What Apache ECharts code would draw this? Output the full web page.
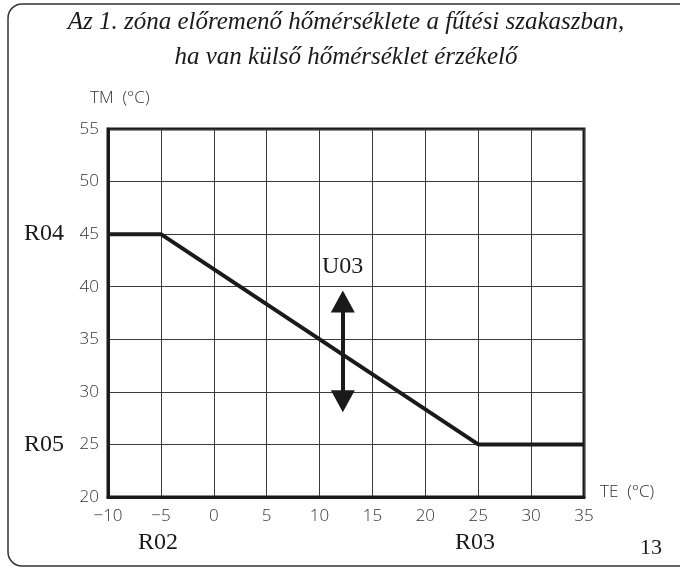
<!DOCTYPE html>
<html>
<head>
<meta charset="utf-8">
<script src="https://cdn.jsdelivr.net/npm/echarts@6/dist/echarts.min.js"></script>
<style>
  html, body { margin: 0; padding: 0; background: #fff; }
  #chart { width: 680px; height: 569px; }
</style>
</head>
<body>
<div id="chart"></div>
<script>
// görbe töréspontjai (TE, TM)
const curveTE = [-10, -5, 25, 35];
const curveTM = [45, 45, 25, 25];
// U03 nyíl
const arrowTE = 12.2;
const arrowTM = [39.6, 28.1];
const xTicks = [-10, 35, 5];
const yTicks = [20, 55, 5];
const titleLines = ['Az 1. zóna előremenő hőmérséklete a fűtési szakaszban,', 'ha van külső hőmérséklet érzékelő'];

const labelFont = '"Open Sans", sans-serif';
const serif = '"Liberation Serif", serif';

const chart = echarts.init(document.getElementById('chart'));
const option = {
  animation: false,
  grid: { left: 108, right: 96, top: 129, bottom: 72, show: true, borderColor: '#1a1a1a', borderWidth: 3, backgroundColor: 'transparent' },
  xAxis: {
    type: 'value', min: xTicks[0], max: xTicks[1], interval: xTicks[2],
    axisLine: { show: true, onZero: false, lineStyle: { color: '#1a1a1a', width: 3 } },
    axisTick: { show: false },
    splitLine: { show: true, lineStyle: { color: '#3a3a3a', width: 1 } },
    axisLabel: { color: '#333', fontFamily: labelFont, fontSize: 17, fontWeight: 300, margin: 11,
      formatter: v => String(v).replace('-', '\u2212') }
  },
  yAxis: {
    type: 'value', min: yTicks[0], max: yTicks[1], interval: yTicks[2],
    axisLine: { show: true, onZero: false, lineStyle: { color: '#1a1a1a', width: 3 } },
    axisTick: { show: false },
    splitLine: { show: true, lineStyle: { color: '#3a3a3a', width: 1 } },
    axisLabel: { color: '#333', fontFamily: labelFont, fontSize: 17, fontWeight: 300, margin: 9 }
  },
  series: [
    {
      type: 'line',
      data: curveTE.map((x, i) => [x, curveTM[i]]),
      symbol: 'none',
      lineStyle: { color: '#1a1a1a', width: 4 },
      z: 5
    },
    {
      type: 'line',
      data: [],
      markLine: {
        silent: true,
        symbol: ['triangle', 'triangle'],
        symbolSize: [24, 22],
        label: { show: false },
        lineStyle: { color: '#1a1a1a', width: 4, type: 'solid' },
        data: [[{ coord: [arrowTE, arrowTM[0] - 1] }, { coord: [arrowTE, arrowTM[1] + 1] }]]
      },
      z: 6
    }
  ],
  graphic: [
    { type: 'rect', shape: { x: 8, y: 4, width: 700, height: 562, r: 14 }, style: { fill: 'none', stroke: '#333', lineWidth: 1.5 } },
    { type: 'text', x: 346, y: 10, style: { text: titleLines[0], align: 'center', font: 'italic 25px ' + serif, fill: '#1a1a1a' } },
    { type: 'text', x: 346, y: 45, style: { text: titleLines[1], align: 'center', font: 'italic 25px ' + serif, fill: '#1a1a1a' } },
    { type: 'text', left: 90, top: 90, style: { text: 'TM  (°C)', font: '300 17px ' + labelFont, fill: '#333' } },
    { type: 'text', left: 600, top: 484, style: { text: 'TE  (°C)', font: '300 17px ' + labelFont, fill: '#333' } },
    { type: 'text', left: 24, top: 222, style: { text: 'R04', font: '24px ' + serif, fill: '#1a1a1a' } },
    { type: 'text', left: 24, top: 433, style: { text: 'R05', font: '24px ' + serif, fill: '#1a1a1a' } },
    { type: 'text', left: 138, top: 531, style: { text: 'R02', font: '24px ' + serif, fill: '#1a1a1a' } },
    { type: 'text', left: 455, top: 531, style: { text: 'R03', font: '24px ' + serif, fill: '#1a1a1a' } },
    { type: 'text', left: 640, top: 537, style: { text: '13', font: '22px ' + serif, fill: '#1a1a1a' } },
    { type: 'text', left: 322, top: 255, style: { text: 'U03', font: '24px ' + serif, fill: '#1a1a1a' } }
  ]
};
chart.setOption(option);
</script>
</body>
</html>
